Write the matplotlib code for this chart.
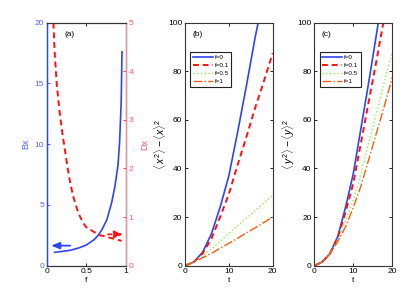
import matplotlib
matplotlib.use("Agg")
from matplotlib import pyplot as plt

plt.rcParams['font.family'] = ['Liberation Sans', 'DejaVu Sans']
plt.rcParams['mathtext.fontset'] = 'custom'
plt.rcParams['mathtext.rm'] = 'Liberation Sans'
plt.rcParams['mathtext.it'] = 'Liberation Sans:italic'

# panel (a)
f_b = [0.1, 0.2, 0.3, 0.4, 0.5, 0.6, 0.65, 0.7, 0.76, 0.82, 0.86, 0.9, 0.92, 0.94, 0.95]
bx = [1.1, 1.18, 1.27, 1.45, 1.7, 2.15, 2.5, 3.0, 3.8, 5.2, 6.5, 8.3, 10.2, 13.5, 17.6]
f_d = [0.085, 0.1, 0.126, 0.16, 0.197, 0.23, 0.27, 0.3, 0.335, 0.4, 0.46, 0.5, 0.59, 0.67, 0.76, 0.88, 0.945]
dx = [5.0, 4.4, 3.75, 3.2, 2.73, 2.38, 1.95, 1.68, 1.42, 1.08, 0.88, 0.79, 0.70, 0.63, 0.59, 0.54, 0.51]

# panel (b)
t = [0, 2, 4, 6, 8, 10, 12, 14, 16, 18, 20]
t_b0 = [0, 2, 4, 6, 8, 10, 12, 14, 16, 16.8]
xb_0 = [0, 1.5, 5.5, 13, 24, 37, 55, 74, 94, 101]
xb_01 = [0, 1.5, 5, 11, 20, 29.5, 41.5, 53, 65, 76, 87.5]
xb_05 = [0, 1.5, 4, 6.8, 10, 13.3, 16.5, 19.5, 22.7, 25.8, 29]
xb_1 = [0, 1.5, 3.3, 5, 7.2, 9.2, 11.3, 13.5, 15.6, 17.8, 20]

# panel (c)
t_c0 = [0, 2, 4, 6, 8, 10, 12, 14, 16, 16.5]
yc_0 = [0, 1.5, 5, 12, 24, 38, 57, 76, 96, 101]
t_c01 = [0, 2, 4, 6, 8, 10, 12, 14, 16, 17.8]
yc_01 = [0, 1.5, 5, 11.5, 22, 34, 51, 68, 85, 101]
yc_05 = [0, 1.5, 5, 10.5, 18.5, 27, 38, 51, 63.5, 76, 88]
yc_1 = [0, 1.5, 4.8, 10, 16, 24, 33, 44, 55, 66, 77.5]

labels = ["f=0", "f=0.1", "f=0.5", "f=1"]
blue = "#2f45f0"
red = "#ff1010"
green = "#8cf050"
orange = "#f06010"
fs = 6

fig = plt.figure(figsize=(4.15, 2.99), dpi=100)

def style(ax):
    ax.tick_params(direction='in', labelsize=fs, length=2.5, width=0.6,
                   top=True, right=True, pad=2)
    for s in ax.spines.values():
        s.set_linewidth(0.8)
        s.set_color('#333333')

# ---- (a)
ax = fig.add_axes([0.1125, 0.1114, 0.191, 0.8127])
ax2 = ax.twinx()
ax.plot(f_b, bx, color=blue, lw=1.2)
ax2.plot(f_d, dx, color=red, lw=1.4, ls=(0, (3, 2)))
ax.set_xlim(0, 1)
ax.set_ylim(0, 20)
ax2.set_ylim(0, 5)
ax.set_xticks([0, 0.5, 1])
ax.set_xticklabels(["0", "0.5", "1"])
ax.set_yticks([0, 5, 10, 15, 20])
ax2.set_yticks([0, 1, 2, 3, 4, 5])
ax.tick_params(direction='in', labelsize=fs, length=2.5, width=0.6, top=True, right=False, pad=2)
ax.tick_params(axis='y', colors=blue, labelcolor="#5566ff")
ax2.tick_params(direction='in', labelsize=fs, length=2.5, width=0.6, colors=red,
                labelcolor="#ff5560", pad=2)
for s in ['top', 'bottom']:
    ax2.spines[s].set_color('#333333')
    ax2.spines[s].set_linewidth(0.8)
ax2.spines['left'].set_color(blue)
ax2.spines['right'].set_color("#e890a0")
ax2.spines['left'].set_linewidth(1.0)
ax2.spines['right'].set_linewidth(1.0)
ax.set_xlabel("f", fontsize=fs, labelpad=1)
ax.set_ylabel("Bx", fontsize=fs + 0.5, color="#5566ff", labelpad=3)
ax2.set_ylabel("Dx", fontsize=fs + 0.5, color="#ff5560", labelpad=5)
ax.text(0.23, 0.95, "(a)", transform=ax.transAxes, fontsize=fs, va='center')
ax.annotate("", xy=(0.02, 1.65), xytext=(0.33, 1.65),
            arrowprops=dict(arrowstyle='-|>,head_length=0.5,head_width=0.2', color=blue, lw=1.3))
ax2.annotate("", xy=(1.0, 0.645), xytext=(0.74, 0.645),
             arrowprops=dict(arrowstyle='-|>,head_length=0.5,head_width=0.2', color=red, lw=1.3,
                             ls=(0, (2, 1.5))))

# ---- (b) and (c)
def panel(rect, xs, tag, ylab, lx):
    ax = fig.add_axes(rect)
    handles = []
    for (tt, yy, c, ls, lw) in xs:
        h, = ax.plot(tt, yy, color=c, ls=ls, lw=lw)
        handles.append(h)
    ax.set_xlim(0, 20)
    ax.set_ylim(0, 100)
    ax.set_xticks([0, 10, 20])
    ax.set_yticks([0, 20, 40, 60, 80, 100])
    style(ax)
    ax.set_xlabel("t", fontsize=fs, labelpad=1)
    ax.set_ylabel(ylab, fontsize=7.5, labelpad=0)
    ax.text(0.09, 0.95, tag, transform=ax.transAxes, fontsize=fs, va='center')
    leg = ax.legend(handles, labels, loc='upper left', bbox_to_anchor=(lx, 0.88),
                    fontsize=4.5, fancybox=False, edgecolor='#222222', framealpha=1,
                    handlelength=3.2, handletextpad=0.3, borderpad=0.4, labelspacing=0.45,
                    borderaxespad=0)
    leg.get_frame().set_linewidth(0.8)
    return ax

panel([0.4458, 0.1114, 0.2113, 0.8127],
      [(t_b0, xb_0, blue, '-', 1.2), (t, xb_01, red, (0, (3, 2)), 1.4),
       (t, xb_05, green, ':', 1.0), (t, xb_1, orange, '-.', 1.0)],
      "(b)", r"$\langle\, x^2\rangle - \langle x\rangle^2$", 0.06)
panel([0.7574, 0.1114, 0.188, 0.8127],
      [(t_c0, yc_0, blue, '-', 1.2), (t_c01, yc_01, red, (0, (3, 2)), 1.4),
       (t, yc_05, green, ':', 1.0), (t, yc_1, orange, '-.', 1.0)],
      "(c)", r"$\langle\, y^2\rangle - \langle y\rangle^2$", 0.07)

fig.savefig("out.png", dpi=100)
